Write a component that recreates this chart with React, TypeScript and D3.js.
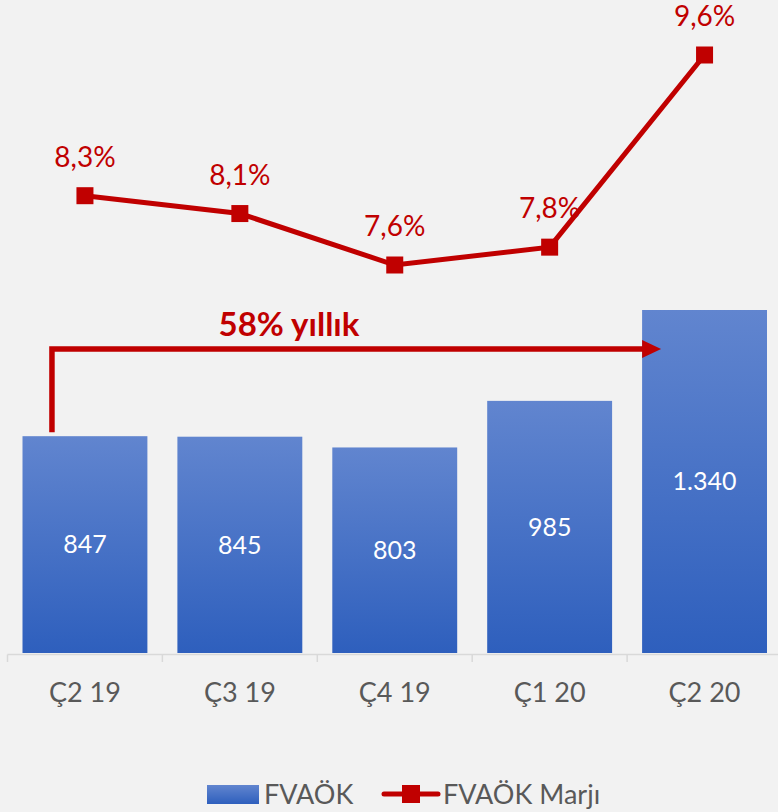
import React from "react";
import * as d3 from "d3";

const categories = ["Ç2 19", "Ç3 19", "Ç4 19", "Ç1 20", "Ç2 20"];
const fvaok = [847, 845, 803, 985, 1340];
const marj = [8.26, 8.09, 7.6, 7.77, 9.6];
const growthLabel = "58% yıllık";
const legendBar = "FVAÖK";
const legendLine = "FVAÖK Marjı";

const W = 778;
const H = 812;
const RED = "#c00000";
const FONT = "Lato, 'Open Sans', sans-serif";

export default function App() {
  const x = d3.scaleBand<string>().domain(categories).range([7.5, 782]).padding(0);
  const barPad = 15;
  const barW = x.bandwidth() - 2 * barPad;
  const yBar = d3.scaleLinear().domain([0, 1340]).range([653, 310]);
  const yLine = d3.scaleLinear().domain([7.6, 9.6]).range([265, 55]);
  const cx = (c: string) => (x(c) as number) + x.bandwidth() / 2;
  const fmtNum = (v: number) => d3.format(",")(v).replace(/,/g, ".");
  const fmtPct = (v: number) => v.toFixed(1).replace(".", ",") + "%";

  const line = d3
    .line<number>()
    .x((_, i) => cx(categories[i]))
    .y((d) => yLine(d));

  const c0 = categories[0];
  const cN = categories[categories.length - 1];
  const arrowX0 = cx(c0) - 33;
  const arrowY = 349;
  const arrowX1 = (x(cN) as number) + barPad + 19;
  const arrowBottom = yBar(fvaok[0]) - 4;

  const ticks = d3.range(categories.length + 1).map((i) => 7.5 + i * x.step());

  return (
    <svg
      width={W}
      height={H}
      style={{ position: "absolute", left: 0, top: 0, background: "#f2f2f2" }}
    >
      <defs>
        <linearGradient id="barGrad" x1="0" y1="0" x2="0" y2="1">
          <stop offset="0%" stopColor="#6185cf" />
          <stop offset="100%" stopColor="#2e5fbd" />
        </linearGradient>
        <linearGradient id="legGrad" x1="0" y1="0" x2="0" y2="1">
          <stop offset="0%" stopColor="#6185cf" />
          <stop offset="100%" stopColor="#2e5fbd" />
        </linearGradient>
      </defs>
      <rect x={0} y={0} width={W} height={H} fill="#f2f2f2" />

      {categories.map((c, i) => (
        <g key={c}>
          <rect
            x={(x(c) as number) + barPad}
            y={yBar(fvaok[i])}
            width={barW}
            height={yBar(0) - yBar(fvaok[i])}
            fill="url(#barGrad)"
          />
          <text
            x={cx(c)}
            y={(yBar(fvaok[i]) + yBar(0)) / 2}
            dy="0.35em"
            textAnchor="middle"
            fill="#ffffff"
            fontSize={25}
            fontFamily={FONT}
          >
            {fmtNum(fvaok[i])}
          </text>
          <text
            x={cx(c)}
            y={693}
            dy="0.35em"
            textAnchor="middle"
            fill="#595959"
            fontSize={27}
            fontFamily={FONT}
          >
            {c}
          </text>
        </g>
      ))}

      <line x1={7.5} x2={W} y1={654.5} y2={654.5} stroke="#d9d9d9" strokeWidth={1.5} />
      {ticks.map((t) => (
        <line key={t} x1={t} x2={t} y1={654.5} y2={662} stroke="#d9d9d9" strokeWidth={1.5} />
      ))}

      {/* growth arrow */}
      <path
        d={`M${arrowX0},${arrowBottom} V${arrowY} H${arrowX1 - 18}`}
        fill="none"
        stroke={RED}
        strokeWidth={5.5}
      />
      <path
        d={`M${arrowX1 - 19},${arrowY - 9} L${arrowX1},${arrowY} L${arrowX1 - 19},${arrowY + 9} Z`}
        fill={RED}
      />
      <text
        x={289}
        y={324}
        dy="0.35em"
        textAnchor="middle"
        fill={RED}
        fontSize={33}
        fontWeight="bold"
        fontFamily={FONT}
      >
        {growthLabel}
      </text>

      {/* margin line */}
      <path d={line(marj) || ""} fill="none" stroke={RED} strokeWidth={5} />
      {marj.map((v, i) => (
        <g key={i}>
          <rect x={cx(categories[i]) - 8.5} y={yLine(v) - 8.5} width={17} height={17} fill={RED} />
          <text
            x={cx(categories[i])}
            y={yLine(v) - 38.5}
            dy="0.35em"
            textAnchor="middle"
            fill={RED}
            fontSize={28}
            fontFamily={FONT}
          >
            {fmtPct(v)}
          </text>
        </g>
      ))}

      {/* legend */}
      <rect x={207} y={785} width={52} height={19} fill="url(#legGrad)" />
      <text x={264} y={795} dy="0.35em" fill="#595959" fontSize={27} fontFamily={FONT}>
        {legendBar}
      </text>
      <line x1={384} x2={438} y1={794} y2={794} stroke={RED} strokeWidth={5} strokeLinecap="round" />
      <rect x={402} y={785} width={18} height={18} fill={RED} />
      <text x={443} y={795} dy="0.35em" fill="#595959" fontSize={27} fontFamily={FONT}>
        {legendLine}
      </text>
    </svg>
  );
}
